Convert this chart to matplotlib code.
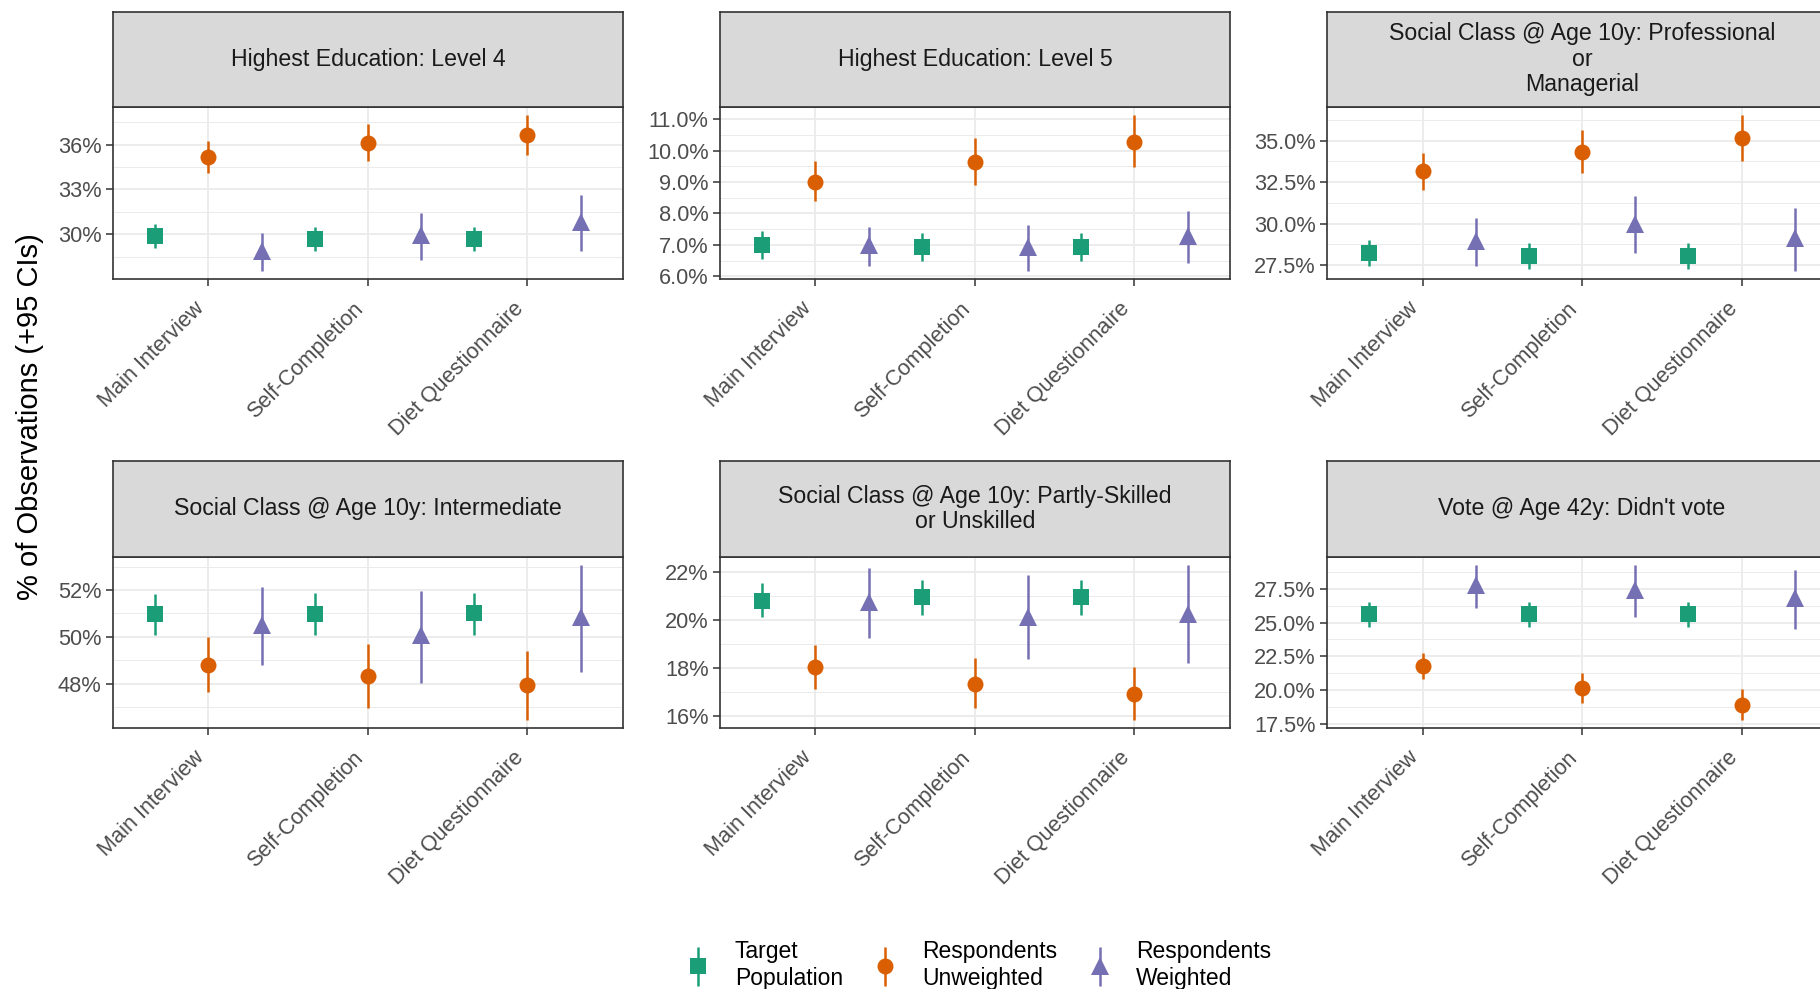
import numpy as np
import matplotlib
matplotlib.use("Agg")
import matplotlib.pyplot as plt
from matplotlib.ticker import FixedLocator, FuncFormatter
from matplotlib.container import ErrorbarContainer
from matplotlib.legend_handler import HandlerErrorbar

plt.rcParams['font.family'] = ['Liberation Sans', 'DejaVu Sans']

modes = ["Main Interview", "Self-Completion", "Diet Questionnaire"]
panel_titles = [
  "Highest Education: Level 4",
  "Highest Education: Level 5",
  "Social Class @ Age 10y: Professional\nor\nManagerial",
  "Social Class @ Age 10y: Intermediate",
  "Social Class @ Age 10y: Partly-Skilled\nor Unskilled",
  "Vote @ Age 42y: Didn't vote",
]
series_labels = ["Target\nPopulation", "Respondents\nUnweighted", "Respondents\nWeighted"]

# Estimates and 95% CI bounds (%), one row per panel, one column per mode.
target_est = [[29.87, 29.69, 29.69], [7.00, 6.92, 6.92], [28.26, 28.06, 28.06],
              [50.97, 50.99, 51.00], [20.80, 20.94, 20.94], [25.64, 25.64, 25.64]]
target_lo = [[29.07, 28.91, 28.91], [6.57, 6.48, 6.48], [27.46, 27.26, 27.26],
             [50.07, 50.10, 50.10], [20.10, 20.22, 20.22], [24.71, 24.71, 24.71]]
target_hi = [[30.67, 30.51, 30.51], [7.44, 7.37, 7.37], [29.02, 28.86, 28.86],
             [51.83, 51.86, 51.86], [21.52, 21.66, 21.66], [26.52, 26.52, 26.52]]

unw_est = [[35.16, 36.13, 36.67], [9.00, 9.62, 10.27], [33.14, 34.34, 35.14],
           [48.82, 48.34, 47.93], [18.03, 17.31, 16.90], [21.76, 20.17, 18.90]]
unw_lo = [[34.11, 34.93, 35.33], [8.40, 8.89, 9.47], [32.02, 33.06, 33.76],
          [47.65, 46.96, 46.45], [17.13, 16.32, 15.82], [20.78, 19.07, 17.77]]
unw_hi = [[36.22, 37.38, 38.00], [9.66, 10.39, 11.14], [34.26, 35.62, 36.56],
          [50.01, 49.69, 49.41], [18.95, 18.40, 18.04], [22.75, 21.27, 20.05]]

wt_est = [[28.85, 29.96, 30.80], [6.99, 6.95, 7.27], [28.96, 29.98, 29.14],
          [50.52, 50.10, 50.86], [20.73, 20.11, 20.25], [27.77, 27.40, 26.84]]
wt_lo = [[27.56, 28.29, 28.89], [6.34, 6.18, 6.42], [27.42, 28.22, 27.16],
         [48.79, 48.04, 48.51], [19.23, 18.36, 18.19], [26.05, 25.44, 24.51]]
wt_hi = [[30.07, 31.42, 32.60], [7.57, 7.65, 8.09], [30.32, 31.66, 30.96],
         [52.14, 51.97, 53.08], [22.18, 21.88, 22.30], [29.29, 29.24, 28.92]]

y_major = [[30, 33, 36], [6, 7, 8, 9, 10, 11], [27.5, 30, 32.5, 35],
           [48, 50, 52], [16, 18, 20, 22], [17.5, 20, 22.5, 25, 27.5]]
y_decimals = [0, 1, 1, 0, 0, 1]

colors = ['#1B9E77', '#D95F02', '#7570B3']
markers = ['s', 'o', '^']
msizes = [11, 11.5, 13]
offsets = [-1/3, 0, 1/3]

W, H = 1820, 989
fig = plt.figure(figsize=(W/100, H/100), dpi=100)

col_left = [0.0619, 0.3954, 0.7290]
col_w = 0.2805
rows = [(0.7183, 0.1737, 0.8920, 0.0963), (0.2641, 0.1727, 0.4368, 0.0973)]

frame = '#333333'
grid_c = '#EBEBEB'
x = np.arange(1, 4)
handles = []

for i in range(6):
  r, c = divmod(i, 3)
  pb, ph, sb, sh = rows[r]
  ax = fig.add_axes([col_left[c], pb, col_w, ph])
  sax = fig.add_axes([col_left[c], sb, col_w, sh])

  # strip
  sax.set_facecolor('#D9D9D9')
  sax.set_xticks([]); sax.set_yticks([])
  for s in sax.spines.values():
    s.set_color(frame); s.set_linewidth(1.2)
  sax.text(0.5, 0.5, panel_titles[i], ha='center', va='center', fontsize=16.7,
           color='#1A1A1A', transform=sax.transAxes, linespacing=1.15)

  groups = [(target_est, target_lo, target_hi), (unw_est, unw_lo, unw_hi), (wt_est, wt_lo, wt_hi)]
  for k, (est, lo, hi) in enumerate(groups):
    e = np.array(est[i]); l = np.array(lo[i]); h = np.array(hi[i])
    cont = ax.errorbar(x + offsets[k], e, yerr=[e - l, h - e], fmt=markers[k], color=colors[k],
                       ms=msizes[k], mew=0, elinewidth=1.8, capsize=0, zorder=3)
    if i == 0:
      handles.append(cont)

  # limits with ggplot-style 5% expansion
  lo_all = min(min(target_lo[i]), min(unw_lo[i]), min(wt_lo[i]))
  hi_all = max(max(target_hi[i]), max(unw_hi[i]), max(wt_hi[i]))
  pad = 0.05 * (hi_all - lo_all)
  ax.set_ylim(lo_all - pad, hi_all + pad)
  ax.set_xlim(0.4, 3.6)

  maj = y_major[i]
  step = maj[1] - maj[0]
  minor = [m + step / 2 for m in [maj[0] - step] + maj]
  ax.yaxis.set_major_locator(FixedLocator(maj))
  ax.yaxis.set_minor_locator(FixedLocator(minor))
  d = y_decimals[i]
  ax.yaxis.set_major_formatter(FuncFormatter(lambda v, p, d=d: f"{v:.{d}f}%"))

  ax.set_xticks(x)
  ax.set_xticklabels(modes, rotation=45, ha='right', va='top')
  ax.tick_params(axis='both', which='major', length=5, width=1.1, color=frame,
                 labelsize=15.7, labelcolor='#4D4D4D', pad=3)
  ax.tick_params(axis='x', which='major', pad=9)
  ax.tick_params(axis='y', which='minor', length=0)
  ax.grid(which='major', color=grid_c, lw=1.3)
  ax.grid(which='minor', axis='y', color=grid_c, lw=0.7)
  ax.set_axisbelow(True)
  for s in ax.spines.values():
    s.set_color(frame); s.set_linewidth(1.2)

fig.text(0.0165, 1 - 417/H, "% of Observations (+95 CIs)", rotation=90, ha='center', va='center',
         fontsize=21, color='black')

fig.legend(handles, series_labels, loc='center', bbox_to_anchor=(0.538, 0.024), ncol=3,
           frameon=False, fontsize=16.5, handlelength=1.0, handletextpad=1.1,
           columnspacing=1.35, handler_map={ErrorbarContainer: HandlerErrorbar(yerr_size=0.85)})

fig.savefig("out.png", dpi=100)
